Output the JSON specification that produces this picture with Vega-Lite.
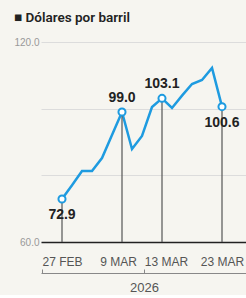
{
  "$schema": "https://vega.github.io/schema/vega-lite/v6.json",
  "width": 206,
  "height": 200,
  "padding": {"left": 13, "top": 10, "right": 0, "bottom": 0},
  "background": "#f6f5f0",
  "title": {"text": "■ Dólares por barril", "anchor": "start", "frame": "bounds", "font": "Roboto", "fontSize": 13.5, "fontWeight": 600, "color": "#222222", "offset": 13},
  "config": {"view": {"stroke": null}},
  "data": {"values": [
    {"n": 0, "fecha": "27 FEB", "v": 72.9, "destacado": true},
    {"n": 1, "fecha": "2 MAR", "v": 77.0, "destacado": false},
    {"n": 2, "fecha": "3 MAR", "v": 81.3, "destacado": false},
    {"n": 3, "fecha": "4 MAR", "v": 81.3, "destacado": false},
    {"n": 4, "fecha": "5 MAR", "v": 85.2, "destacado": false},
    {"n": 5, "fecha": "6 MAR", "v": 92.1, "destacado": false},
    {"n": 6, "fecha": "9 MAR", "v": 99.0, "destacado": true},
    {"n": 7, "fecha": "10 MAR", "v": 87.9, "destacado": false},
    {"n": 8, "fecha": "11 MAR", "v": 91.8, "destacado": false},
    {"n": 9, "fecha": "12 MAR", "v": 100.5, "destacado": false},
    {"n": 10, "fecha": "13 MAR", "v": 103.1, "destacado": true},
    {"n": 11, "fecha": "16 MAR", "v": 100.2, "destacado": false},
    {"n": 12, "fecha": "17 MAR", "v": 103.9, "destacado": false},
    {"n": 13, "fecha": "18 MAR", "v": 107.4, "destacado": false},
    {"n": 14, "fecha": "19 MAR", "v": 108.6, "destacado": false},
    {"n": 15, "fecha": "20 MAR", "v": 112.2, "destacado": false},
    {"n": 16, "fecha": "23 MAR", "v": 100.6, "destacado": true}
  ]},
  "encoding": {
    "y": {"field": "v", "type": "quantitative",
      "scale": {"domain": [60, 120], "nice": false, "zero": false},
      "axis": {"values": [60, 80, 100, 120], "labelExpr": "datum.value == 60 || datum.value == 120 ? format(datum.value, '.1f') : ''", "grid": true, "gridColor": "#dcdcdc", "gridWidth": 1, "domain": false, "ticks": false, "labelFont": "Liberation Sans", "labelFontSize": 10, "labelColor": "#999999", "labelPadding": 2, "title": null}}
  },
  "layer": [
    {
      "mark": {"type": "line", "color": "#1e9be0", "strokeWidth": 2.5},
      "encoding": {
        "x": {"field": "n", "type": "quantitative",
          "scale": {"domain": [-2.1, 18.5], "nice": false, "zero": false},
          "axis": {"orient": "bottom", "values": [0, 6, 10, 16], "labelExpr": "datum.value == 0 ? '27 FEB' : datum.value == 6 ? '9 MAR' : datum.value == 10 ? '13 MAR' : '23 MAR'", "domainColor": "#222222", "domainWidth": 1.5, "ticks": false, "grid": false, "labelFont": "Liberation Sans", "labelFontSize": 12, "labelColor": "#555555", "labelPadding": 14, "labelAngle": 0, "labelOverlap": false, "labelFlush": false,
            "labelOffset": {"condition": [{"test": "datum.value == 6", "value": -4}, {"test": "datum.value == 10", "value": 4}], "value": 0},
            "title": null}}
      }
    },
    {
      "transform": [{"filter": "datum.destacado"}],
      "mark": {"type": "rule", "color": "#555555", "strokeWidth": 1.2},
      "encoding": {
        "x": {"field": "n", "type": "quantitative", "axis": null},
        "y2": {"datum": 60}
      }
    },
    {
      "transform": [{"filter": "datum.destacado"}],
      "mark": {"type": "circle", "fill": "#ffffff", "stroke": "#1e9be0", "strokeWidth": 2, "size": 50, "opacity": 1},
      "encoding": {
        "x": {"field": "n", "type": "quantitative",
          "axis": {"orient": "bottom", "offset": 31, "labels": false, "ticks": true, "values": [-2.05, 8.2], "tickSize": -4, "tickColor": "#888888", "tickWidth": 1, "grid": false, "domainColor": "#888888", "domainWidth": 1, "title": "2026", "titleFont": "Liberation Sans", "titleFontSize": 13, "titleFontWeight": "normal", "titleColor": "#555555", "titlePadding": 8}}
      }
    },
    {
      "transform": [{"filter": "datum.fecha == '9 MAR' || datum.fecha == '13 MAR'"}],
      "mark": {"type": "text", "font": "Liberation Sans", "fontWeight": "bold", "fontSize": 14, "color": "#222222", "dy": -14},
      "encoding": {
        "x": {"field": "n", "type": "quantitative", "axis": null},
        "text": {"field": "v", "type": "quantitative", "format": ".1f"}
      }
    },
    {
      "transform": [{"filter": "datum.fecha == '27 FEB' || datum.fecha == '23 MAR'"}],
      "mark": {"type": "text", "font": "Liberation Sans", "fontWeight": "bold", "fontSize": 14, "color": "#222222", "dy": 16},
      "encoding": {
        "x": {"field": "n", "type": "quantitative", "axis": null},
        "text": {"field": "v", "type": "quantitative", "format": ".1f"}
      }
    }
  ],
  "resolve": {"axis": {"x": "independent"}}
}
